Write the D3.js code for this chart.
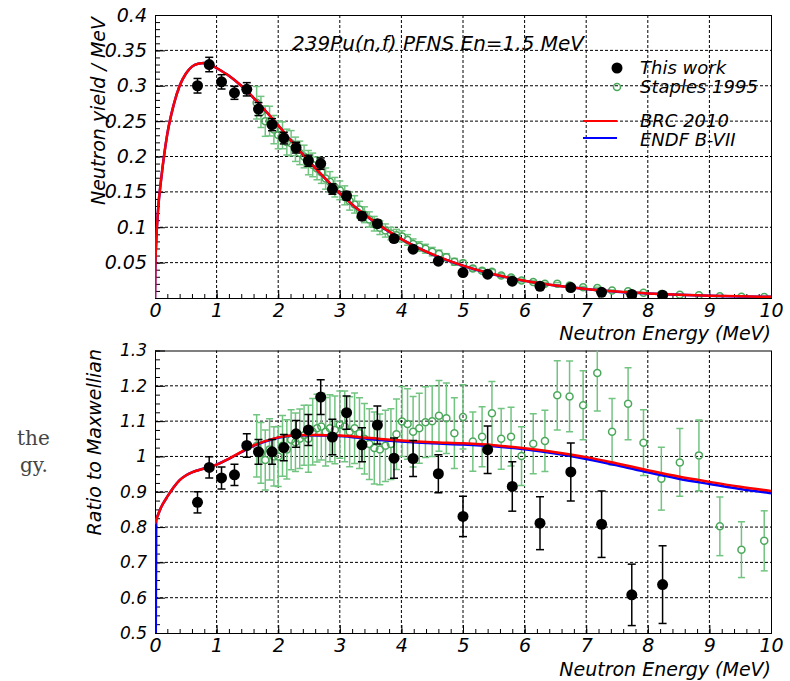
<!DOCTYPE html>
<html>
<head>
<meta charset="utf-8">
<title>239Pu(n,f) PFNS</title>
<script src="https://cdn.jsdelivr.net/npm/d3@7"></script>
<style>
    body { margin: 0; background: #fff; }
    svg text { font-family: "DejaVu Sans", sans-serif; font-style: italic; fill: #000; }
    .grid line { stroke: #000; stroke-width: 1; stroke-dasharray: 3,2; }
    .axis line { stroke: #000; }
    .frame { fill: none; stroke: #000; stroke-width: 1; }
    svg text.side { font-family: "DejaVu Serif", serif; font-style: normal; fill: #444; }
</style>
</head>
<body>
<svg id="chart" width="790" height="681"></svg>
<script>
// ---- data ----
// "This work" points
var thisE = [0.69, 0.88, 1.08, 1.29, 1.49, 1.68, 1.90, 2.09, 2.29, 2.49, 2.69, 2.88, 3.11,
    3.36, 3.61, 3.88, 4.19, 4.60, 5.00, 5.40, 5.80, 6.25, 6.75, 7.25, 7.74, 8.24];
var thisYield = [0.300, 0.330, 0.3055, 0.290, 0.295, 0.267, 0.245, 0.226, 0.2125, 0.194, 0.190, 0.154, 0.1445,
    0.1157, 0.105, 0.084, 0.069, 0.052, 0.036, 0.0336, 0.0237, 0.0166, 0.0147, 0.008, 0.005, 0.004];
var thisYieldErr = [0.0103, 0.0102, 0.0101, 0.0092, 0.0094, 0.0092, 0.0085, 0.0082, 0.0076, 0.0079, 0.008, 0.0073, 0.006,
    0.0054, 0.0052, 0.0048, 0.0035, 0.003, 0.0025, 0.0022, 0.0018, 0.0015, 0.0013, 0.0009, 0.0007, 0.0007];
var thisRatio = [0.870, 0.969, 0.939, 0.948, 1.031, 1.013, 1.013, 1.025, 1.064, 1.075, 1.168, 1.055, 1.124,
    1.033, 1.089, 0.995, 0.994, 0.951, 0.830, 1.019, 0.915, 0.811, 0.956, 0.808, 0.608, 0.637];
var thisRatioErr = [0.030, 0.030, 0.031, 0.030, 0.033, 0.035, 0.035, 0.037, 0.038, 0.044, 0.049, 0.050, 0.047,
    0.048, 0.054, 0.057, 0.051, 0.054, 0.057, 0.067, 0.070, 0.075, 0.082, 0.094, 0.087, 0.110];

// Staples 1995 points
var staplesE = [1.65, 1.72, 1.79, 1.86, 1.93, 2.00, 2.07, 2.14, 2.21, 2.28, 2.35, 2.42,
    2.49, 2.56, 2.63, 2.70, 2.77, 2.84, 2.92, 3.00,
    3.08, 3.16, 3.24, 3.32, 3.40, 3.48,
    3.56, 3.65, 3.74, 3.83, 3.92,
    4.01, 4.10, 4.19, 4.29, 4.39, 4.50, 4.61, 4.73, 4.86,
    5.00,
    5.16, 5.31, 5.47, 5.62, 5.78, 5.95, 6.14, 6.33, 6.53, 6.73, 6.95, 7.18, 7.42, 7.68, 7.93,
    8.22, 8.52, 8.83, 9.17, 9.52, 9.89];
var staplesYield = [0.276, 0.263, 0.250, 0.250, 0.238, 0.2305, 0.230, 0.2204, 0.2188, 0.2102, 0.2051, 0.200,
    0.1913, 0.1881, 0.1832, 0.1776, 0.1688, 0.1642, 0.1566, 0.1522,
    0.1451, 0.1370, 0.1323, 0.1250, 0.1177, 0.1110,
    0.1050, 0.0994, 0.0954, 0.0910, 0.0887,
    0.0871, 0.0821, 0.0764, 0.0728, 0.0696, 0.0655, 0.0621, 0.0575, 0.0511,
    0.0490,
    0.0417, 0.0386, 0.0372, 0.0317, 0.0289, 0.0247, 0.0227, 0.0203, 0.0201, 0.0177, 0.0151, 0.0141, 0.0105, 0.0095, 0.0073,
    0.0055, 0.0047, 0.0040, 0.0025, 0.0019, 0.0015];
var staplesYieldErr = [0.023, 0.022, 0.0215, 0.021, 0.020, 0.0196, 0.019, 0.0183, 0.0178, 0.0172, 0.0166, 0.016,
    0.0172, 0.0167, 0.0161, 0.0156, 0.015, 0.0144, 0.0138, 0.0132,
    0.0134, 0.0128, 0.0123, 0.0117, 0.0112, 0.0108,
    0.0103, 0.0097, 0.0093, 0.0088, 0.0083,
    0.0079, 0.0075, 0.0071, 0.0068, 0.0063, 0.006, 0.0056, 0.0052, 0.0048,
    0.0042,
    0.0034, 0.0031, 0.003, 0.0026, 0.0023, 0.0021, 0.0019, 0.0017, 0.0017, 0.0015, 0.0013, 0.0012, 0.0009, 0.0008, 0.0007,
    0.0005, 0.0005, 0.0004, 0.0003, 0.0002, 0.0002];
var staplesRatio = [1.03, 1.01, 0.99, 1.02, 1.00, 1.00, 1.03, 1.02, 1.047, 1.04, 1.05, 1.06,
    1.05, 1.07, 1.08, 1.085, 1.07, 1.08, 1.075, 1.09,
    1.085, 1.07, 1.08, 1.066, 1.05, 1.035,
    1.024, 1.02, 1.03, 1.035, 1.063,
    1.099, 1.092, 1.07, 1.08, 1.097, 1.10, 1.115, 1.108, 1.066,
    1.112,
    1.042, 1.056, 1.122, 1.050, 1.056, 1.001, 1.036, 1.044, 1.173, 1.170, 1.145, 1.236, 1.070, 1.149, 1.039,
    0.937, 0.983, 1.003, 0.802, 0.736, 0.761];
var staplesRatioErr = [0.088, 0.086, 0.085, 0.087, 0.084, 0.085, 0.086, 0.084, 0.085, 0.083, 0.084, 0.085,
    0.095, 0.094, 0.096, 0.095, 0.097, 0.095, 0.096, 0.095,
    0.100, 0.099, 0.100, 0.100, 0.100, 0.100,
    0.102, 0.100, 0.101, 0.100, 0.100,
    0.099, 0.100, 0.100, 0.099, 0.100, 0.100, 0.100, 0.100, 0.100,
    0.091,
    0.084, 0.085, 0.090, 0.086, 0.083, 0.083, 0.085, 0.087, 0.098, 0.100, 0.098, 0.107, 0.094, 0.102, 0.093,
    0.089, 0.096, 0.100, 0.083, 0.079, 0.085];

// evaluated spectra (BRC 2010, ENDF B-VII)
var curveE = [0, 0.005, 0.02, 0.05, 0.1, 0.15, 0.2, 0.3, 0.4, 0.5, 0.6, 0.7, 0.8, 0.9, 1.0, 1.2, 1.4, 1.6, 1.8,
    2.0, 2.25, 2.5, 2.75, 3.0, 3.5, 4.0, 4.5, 5.0, 5.5, 6.0, 6.5, 7.0, 7.5, 8.0, 8.5, 9.0, 9.5, 10];
var brcYield = [0, 0.04, 0.08, 0.125, 0.168, 0.203, 0.232, 0.272, 0.300, 0.317, 0.327, 0.331, 0.332, 0.330, 0.325,
    0.314, 0.300, 0.283, 0.264, 0.244, 0.218, 0.193, 0.170, 0.148, 0.1115, 0.0833, 0.0619, 0.0457, 0.0335, 0.0244,
    0.0177, 0.0127, 0.0091, 0.0065, 0.0046, 0.0033, 0.0023, 0.0017];
var endfYield = [0, 0.04, 0.08, 0.125, 0.168, 0.203, 0.232, 0.272, 0.300, 0.317, 0.327, 0.331, 0.332, 0.330, 0.325,
    0.314, 0.300, 0.283, 0.264, 0.244, 0.218, 0.193, 0.170, 0.148, 0.1113, 0.0831, 0.0617, 0.0455, 0.0333, 0.0242,
    0.0176, 0.0126, 0.0090, 0.0064, 0.0045, 0.0032, 0.0022, 0.0016];

var ratioE = [0, 0.02, 0.05, 0.1, 0.15, 0.2, 0.3, 0.4, 0.5, 0.6, 0.7, 0.8, 0.9, 1.0, 1.2, 1.4, 1.6, 1.8,
    2.0, 2.25, 2.5, 2.75, 3.0, 3.5, 4.0, 4.5, 5.0, 5.5, 6.0, 6.5, 7.0, 7.5, 8.0, 8.5, 9.0, 9.5, 10];
var brcRatio = [0.809, 0.82, 0.835, 0.856, 0.872, 0.886, 0.912, 0.933, 0.946, 0.955, 0.961, 0.966, 0.971, 0.977,
    0.994, 1.013, 1.031, 1.044, 1.054, 1.060, 1.061, 1.060, 1.059, 1.052, 1.045, 1.040, 1.037, 1.032, 1.023,
    1.012, 0.998, 0.980, 0.961, 0.943, 0.928, 0.914, 0.902];
var endfRatio = [0, 0.82, 0.835, 0.856, 0.872, 0.886, 0.912, 0.933, 0.946, 0.955, 0.961, 0.966, 0.971, 0.977,
    0.993, 1.012, 1.030, 1.043, 1.053, 1.059, 1.060, 1.059, 1.058, 1.049, 1.042, 1.037, 1.034, 1.029, 1.020,
    1.008, 0.993, 0.975, 0.955, 0.937, 0.922, 0.908, 0.896];

var xTicks = [0, 1, 2, 3, 4, 5, 6, 7, 8, 9, 10];
var yTopTicks = [0, 0.05, 0.1, 0.15, 0.2, 0.25, 0.3, 0.35, 0.4];
var yBotTicks = [0.5, 0.6, 0.7, 0.8, 0.9, 1.0, 1.1, 1.2, 1.3];

var legendNames = ["This work", "Staples 1995", "BRC 2010", "ENDF B-VII"];

// ---- layout ----
var left = 155, right = 771;
var green = "#4aa85a", greenBar = "#72c481";

var svg = d3.select("#chart");

var xScale = d3.scaleLinear().domain([0, 10]).range([left, right]);
var yTop = d3.scaleLinear().domain([0, 0.4]).range([298, 15]);
var yBot = d3.scaleLinear().domain([0.5, 1.3]).range([633, 350.5]);

// stray text from the page behind the figure
svg.append("text").attr("class", "side").attr("x", 17).attr("y", 445).attr("font-size", 20).text("the");
svg.append("text").attr("class", "side").attr("x", 20).attr("y", 472).attr("font-size", 20).text("gy.");

function drawPanel(yScale, yTicks, yMinorStep, yFmt, clipId, yLabelSize) {
    var y0 = yScale.range()[0], y1 = yScale.range()[1];
    var g = svg.append("g");

    svg.append("clipPath").attr("id", clipId)
        .append("rect")
        .attr("x", left).attr("y", y1)
        .attr("width", right - left).attr("height", y0 - y1);

    // dotted grid
    var grid = g.append("g").attr("class", "grid");
    grid.selectAll("line.v")
        .data(xTicks.slice(1, -1))
        .enter().append("line")
        .attr("x1", function (d) { return xScale(d); })
        .attr("x2", function (d) { return xScale(d); })
        .attr("y1", y0).attr("y2", y1);
    grid.selectAll("line.h")
        .data(yTicks.slice(1, -1))
        .enter().append("line")
        .attr("x1", left).attr("x2", right)
        .attr("y1", function (d) { return yScale(d); })
        .attr("y2", function (d) { return yScale(d); });

    // x axis ticks (inward)
    var xMinor = d3.range(0, 10.001, 0.2).map(function (d) { return +d.toFixed(1); });
    g.append("g").attr("class", "axis")
        .attr("transform", "translate(0," + y0 + ")")
        .call(d3.axisBottom(xScale).tickValues(xMinor).tickSize(-4).tickFormat(""))
        .call(function (s) { s.select(".domain").remove(); });
    var xa = g.append("g").attr("class", "axis")
        .attr("transform", "translate(0," + y0 + ")")
        .call(d3.axisBottom(xScale).tickValues(xTicks).tickSize(-8).tickPadding(6).tickFormat(d3.format("d")))
        .call(function (s) { s.select(".domain").remove(); });
    xa.attr("font-family", null).attr("font-size", null);
    xa.selectAll("text").attr("font-size", 19);

    // y axis ticks (inward)
    var yMinor = d3.range(yTicks[0], yTicks[yTicks.length - 1] + 1e-6, yMinorStep);
    g.append("g").attr("class", "axis")
        .attr("transform", "translate(" + left + ",0)")
        .call(d3.axisLeft(yScale).tickValues(yMinor).tickSize(-5).tickFormat(""))
        .call(function (s) { s.select(".domain").remove(); });
    var ya = g.append("g").attr("class", "axis")
        .attr("transform", "translate(" + left + ",0)")
        .call(d3.axisLeft(yScale).tickValues(yTicks).tickSize(-10).tickPadding(8).tickFormat(yFmt))
        .call(function (s) { s.select(".domain").remove(); });
    ya.attr("font-family", null).attr("font-size", null);
    ya.selectAll("text").attr("font-size", yLabelSize);

    g.append("rect").attr("class", "frame")
        .attr("x", left + 0.5).attr("y", y1 + 0.5)
        .attr("width", right - left).attr("height", y0 - y1);

    return g;
}

function drawCurve(g, xs, ys, yScale, color, clipId) {
    var pts = xs.map(function (d, i) { return [d, ys[i]]; });
    var line = d3.line()
        .x(function (d) { return xScale(d[0]); })
        .y(function (d) { return yScale(d[1]); })
        .curve(d3.curveMonotoneX);
    g.append("path")
        .datum(pts)
        .attr("clip-path", "url(#" + clipId + ")")
        .attr("fill", "none")
        .attr("stroke", color)
        .attr("stroke-width", 2.5)
        .attr("d", line);
}

function drawPoints(g, xs, ys, es, yScale, opts, clipId) {
    var pts = xs.map(function (d, i) { return { x: d, y: ys[i], e: es[i] }; });
    var layer = g.append("g").attr("clip-path", "url(#" + clipId + ")");
    var bars = layer.selectAll("g.pt").data(pts).enter().append("g");
    var gap = opts.hollow ? opts.r + 0.5 : 0;
    // upper and lower bar pieces, leaving the marker free
    bars.append("line")
        .attr("x1", function (d) { return xScale(d.x); })
        .attr("x2", function (d) { return xScale(d.x); })
        .attr("y1", function (d) { return yScale(d.y + d.e); })
        .attr("y2", function (d) { return Math.max(yScale(d.y + d.e), yScale(d.y) - gap); })
        .attr("stroke", opts.bar).attr("stroke-width", 1.5);
    bars.append("line")
        .attr("x1", function (d) { return xScale(d.x); })
        .attr("x2", function (d) { return xScale(d.x); })
        .attr("y1", function (d) { return Math.min(yScale(d.y - d.e), yScale(d.y) + gap); })
        .attr("y2", function (d) { return yScale(d.y - d.e); })
        .attr("stroke", opts.bar).attr("stroke-width", 1.5);
    [1, -1].forEach(function (s) {
        bars.append("line")
            .attr("x1", function (d) { return xScale(d.x) - opts.cap; })
            .attr("x2", function (d) { return xScale(d.x) + opts.cap; })
            .attr("y1", function (d) { return yScale(d.y + s * d.e); })
            .attr("y2", function (d) { return yScale(d.y + s * d.e); })
            .attr("stroke", opts.bar).attr("stroke-width", 1.5);
    });
    layer.selectAll("circle").data(pts).enter().append("circle")
        .attr("cx", function (d) { return xScale(d.x); })
        .attr("cy", function (d) { return yScale(d.y); })
        .attr("r", opts.r)
        .attr("fill", opts.hollow ? "none" : opts.color)
        .attr("stroke", opts.color)
        .attr("stroke-width", opts.hollow ? 1.5 : 0);
}

var fmtTop = function (d) { return d === 0 ? "" : String(+d.toFixed(2)); };
var fmtBot = function (d) { return String(+d.toFixed(1)); };

var staplesOpts = { color: green, bar: greenBar, r: 3.5, cap: 3.5, hollow: true };
var thisOpts = { color: "#000", bar: "#000", r: 5.5, cap: 4, hollow: false };

// ---- top panel ----
var gTop = drawPanel(yTop, yTopTicks, 0.01, fmtTop, "clipTop", 19);
drawPoints(gTop, staplesE, staplesYield, staplesYieldErr, yTop, staplesOpts, "clipTop");
drawCurve(gTop, curveE, endfYield, yTop, "#0000ff", "clipTop");
drawCurve(gTop, curveE, brcYield, yTop, "#ff0000", "clipTop");
drawPoints(gTop, thisE, thisYield, thisYieldErr, yTop, thisOpts, "clipTop");

gTop.append("text")
    .attr("x", 292).attr("y", 50)
    .attr("font-size", 20)
    .text("239Pu(n,f) PFNS En=1.5 MeV");

gTop.append("text")
    .attr("transform", "translate(105,17) rotate(-90)")
    .attr("text-anchor", "end")
    .attr("font-size", 19)
    .text("Neutron yield / MeV");

gTop.append("text")
    .attr("x", right).attr("y", 340)
    .attr("text-anchor", "end")
    .attr("font-size", 19)
    .text("Neutron Energy (MeV)");

// legend
var lg = gTop.append("g");
lg.append("circle").attr("cx", 617).attr("cy", 68).attr("r", 5.5).attr("fill", "#000");
lg.append("circle").attr("cx", 617).attr("cy", 87).attr("r", 3.5)
    .attr("fill", "none").attr("stroke", green).attr("stroke-width", 1.5);
lg.append("line").attr("x1", 583).attr("x2", 617).attr("y1", 121).attr("y2", 121)
    .attr("stroke", "#ff0000").attr("stroke-width", 2);
lg.append("line").attr("x1", 583).attr("x2", 617).attr("y1", 138).attr("y2", 138)
    .attr("stroke", "#0000ff").attr("stroke-width", 2);
lg.selectAll("text.lab")
    .data(legendNames)
    .enter().append("text")
    .attr("x", 640)
    .attr("y", function (d, i) { return [74, 93, 127, 146][i]; })
    .attr("font-size", 18)
    .text(function (d) { return d; });

// ---- bottom panel ----
var gBot = drawPanel(yBot, yBotTicks, 0.025, fmtBot, "clipBot", 17);
drawPoints(gBot, staplesE, staplesRatio, staplesRatioErr, yBot, staplesOpts, "clipBot");
drawCurve(gBot, ratioE, endfRatio, yBot, "#0000ff", "clipBot");
drawCurve(gBot, ratioE, brcRatio, yBot, "#ff0000", "clipBot");
drawPoints(gBot, thisE, thisRatio, thisRatioErr, yBot, thisOpts, "clipBot");

gBot.append("text")
    .attr("transform", "translate(101,349) rotate(-90)")
    .attr("text-anchor", "end")
    .attr("font-size", 19)
    .text("Ratio to Maxwellian");

gBot.append("text")
    .attr("x", right).attr("y", 676)
    .attr("text-anchor", "end")
    .attr("font-size", 19)
    .text("Neutron Energy (MeV)");
</script>
</body>
</html>
